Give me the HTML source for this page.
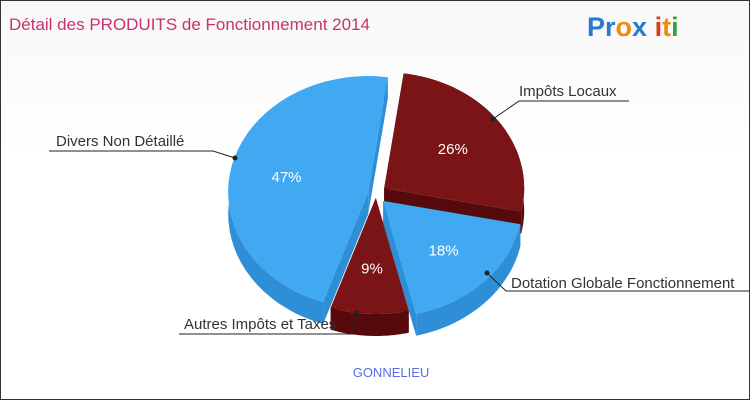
<!DOCTYPE html>
<html><head><meta charset="utf-8"><style>
body{margin:0}
#c{width:748px;height:398px;border:1px solid #333;position:relative;background:linear-gradient(#f8f8f8,#fff 40%);overflow:hidden;font-family:"Liberation Sans",sans-serif}
</style></head><body>
<div id="c">
<svg width="748" height="398">
<text x="8" y="29" font-size="17" fill="#c8326e">Détail des PRODUITS de Fonctionnement 2014</text>
<text x="586" y="35" font-size="27" font-weight="bold"><tspan fill="#2a7bd0">Pr</tspan><tspan fill="#f08a10">o</tspan><tspan fill="#2a7bd0">x</tspan><tspan fill="#e03a1a"> i</tspan><tspan fill="#f08a10">t</tspan><tspan fill="#3aa040">i</tspan></text>
<g id="pie"></g>
<g id="labels"></g>
<text x="390" y="376" font-size="13" fill="#5a6ee8" text-anchor="middle">GONNELIEU</text>
</svg></div>
<script>
const categories=["Impôts Locaux","Dotation Globale Fonctionnement","Autres Impôts et Taxes","Divers Non Détaillé"];
const values=[26,18,9,47];
const pctLabels=["26%","18%","9%","47%"];
const NS="http://www.w3.org/2000/svg";
const cx=375,cy=193,rx=140,ry=116,depth=22,start=8;
const topCol=["#7a1416","#41a9f2","#7a1416","#41a9f2"];
const sideCol=["#560a0b","#2f8fd6","#560a0b","#2f8fd6"];
const explode=[10,10,4,8];
const total=values.reduce((a,b)=>a+b,0);
function pt(ox,oy,a,dy){const r=a*Math.PI/180;return [ox+rx*Math.sin(r),oy-ry*Math.cos(r)+(dy||0)];}
const pie=document.getElementById('pie');
let acc=start;const slices=[];
values.forEach((v,i)=>{const a1=acc,a2=acc+v/total*360;acc=a2;const m=(a1+a2)/2*Math.PI/180;
slices.push({i,a1,a2,ox:cx+explode[i]*Math.sin(m),oy:cy-explode[i]*Math.cos(m),m});});
function arc(s,a,b,dy,n){let d="";for(let k=0;k<=n;k++){const t=a+(b-a)*k/n;const p=pt(s.ox,s.oy,t,dy);d+=(k?"L":"")+p[0].toFixed(1)+","+p[1].toFixed(1);}return d;}
const order=[...slices].sort((a,b)=>Math.cos(b.m)-Math.cos(a.m));
order.forEach(s=>{
 const g=document.createElementNS(NS,'g');
 
 
 const walls=[s.a1,s.a2].map(a=>{const p=pt(s.ox,s.oy,a);return `M${s.ox},${s.oy}L${p[0]},${p[1]}L${p[0]},${p[1]+depth}L${s.ox},${s.oy+depth}Z`;});
 walls.forEach(w=>{const e=document.createElementNS(NS,'path');e.setAttribute('d',w);e.setAttribute('fill',sideCol[s.i]);g.appendChild(e);});
 const side=document.createElementNS(NS,'path');
 const n=40;let d="M"+arc(s,s.a1,s.a2,0,n);
 d+="L"+arc(s,s.a2,s.a1,depth,n)+"Z";
 side.setAttribute('d',d);side.setAttribute('fill',sideCol[s.i]);g.appendChild(side);
 const top=document.createElementNS(NS,'path');
 top.setAttribute('d',`M${s.ox},${s.oy}L`+arc(s,s.a1,s.a2,0,n)+"Z");
 top.setAttribute('fill',topCol[s.i]);g.appendChild(top);
 const lp=[s.ox+rx*0.6*Math.sin(s.m),s.oy-ry*0.6*Math.cos(s.m)];
 const t=document.createElementNS(NS,'text');
 t.setAttribute('x',lp[0]);t.setAttribute('y',lp[1]+6);t.setAttribute('fill','#fff');t.setAttribute('font-size','15');t.setAttribute('text-anchor','middle');
 
 
 t.textContent=pctLabels[s.i];g.appendChild(t);
 pie.appendChild(g);
});
const lab=[
 {tx:518,ty:95,x1:628,x2:518,y:100,ax:492,ay:118},
 {tx:510,ty:287,x1:748,x2:505,y:290,ax:486,ay:272},
 {tx:183,ty:328,x1:178,x2:352,y:333,ax:356,ay:312},
 {tx:55,ty:145,x1:48,x2:212,y:150,ax:234,ay:157}];
const L=document.getElementById('labels');
categories.forEach((c,i)=>{const o=lab[i];
 const g=document.createElementNS(NS,'g');
 
 
 g.innerHTML=`<path d="M${o.x1},${o.y}L${o.x2},${o.y}L${o.ax},${o.ay}" stroke="#222" fill="none"/><circle cx="${o.ax}" cy="${o.ay}" r="2.5" fill="#222"/><text x="${o.tx}" y="${o.ty}" font-size="15" fill="#333">${c}</text>`;
 L.appendChild(g);});
</script>
</body></html>
